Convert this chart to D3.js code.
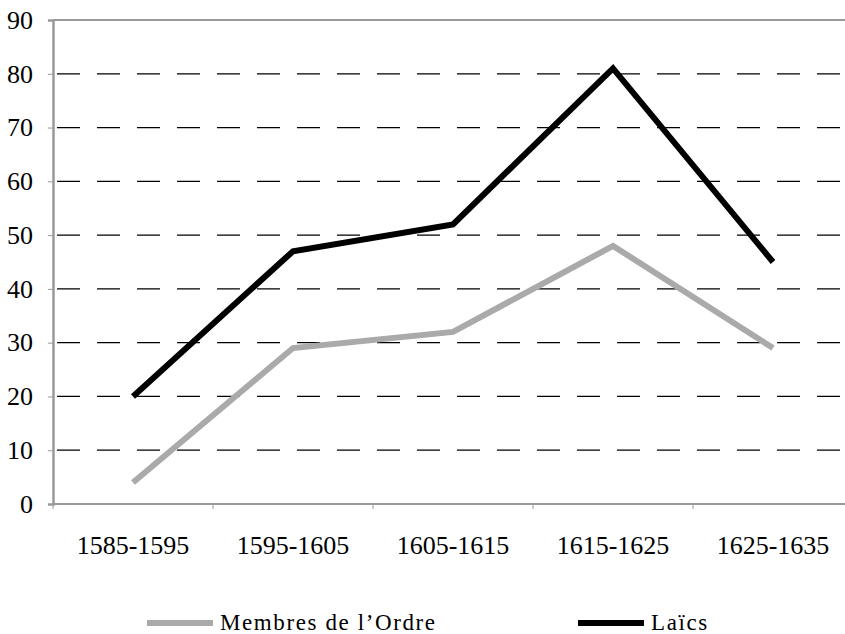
<!DOCTYPE html>
<html>
<head>
<meta charset="utf-8">
<script src="https://cdn.jsdelivr.net/npm/d3@7"></script>
<style>
  body { margin: 0; background: #fff; overflow: hidden; }
  svg { display: block; }
</style>
</head>
<body>
<div id="chart"></div>
<script>
// periods on the x axis
var periods = ["1585-1595", "1595-1605", "1605-1615", "1615-1625", "1625-1635"];
var membres = [4, 29, 32, 48, 29];   // Membres de l'Ordre
var laics = [20, 47, 52, 81, 45];    // Laïcs
var yTicks = [0, 10, 20, 30, 40, 50, 60, 70, 80, 90];

let width = 845, height = 634;
let svg = d3.select('#chart').append('svg')
    .attr('width', width)
    .attr('height', height);

let plotLeft = 53, plotRight = 853, plotTop = 20, plotBottom = 504;

let x = d3.scaleBand().domain(periods).range([plotLeft, plotRight]);
let y = d3.scaleLinear().domain([0, 90]).range([plotBottom, plotTop]);

// dashed gridlines
svg.append('g').selectAll('line')
    .data(yTicks.filter(d => d > 0 && d < 90))
    .enter().append('line')
    .attr('x1', plotLeft).attr('x2', plotRight)
    .attr('y1', d => y(d)).attr('y2', d => y(d))
    .attr('stroke', '#000')
    .attr('stroke-width', 1.3)
    .attr('stroke-dasharray', '23,17')
    .attr('stroke-dashoffset', -4);

// frame top line
svg.append('line')
    .attr('x1', plotLeft).attr('x2', plotRight)
    .attr('y1', plotTop).attr('y2', plotTop)
    .attr('stroke', '#999').attr('stroke-width', 2);

// y axis
let yAxis = svg.append('g')
    .attr('transform', `translate(${plotLeft},0)`)
    .call(d3.axisLeft(y).tickValues(yTicks).tickSize(5).tickPadding(15));
yAxis.select('.domain').attr('stroke', '#999').attr('stroke-width', 2.5);
yAxis.selectAll('.tick line').attr('stroke', '#999');
yAxis.selectAll('text')
    .attr('font-family', '"Liberation Serif", serif')
    .attr('font-size', 26)
    .attr('fill', '#000');

// x axis
let xTickPos = periods.map(p => x(p)).concat([plotRight]);
let xAxis = svg.append('g')
    .attr('transform', `translate(0,${plotBottom})`);
xAxis.append('line')
    .attr('x1', plotLeft).attr('x2', plotRight)
    .attr('stroke', '#999').attr('stroke-width', 2);
xAxis.selectAll('.tk').data(xTickPos).enter().append('line')
    .attr('x1', d => d).attr('x2', d => d)
    .attr('y1', 0).attr('y2', 5)
    .attr('stroke', '#999');
xAxis.selectAll('text').data(periods).enter().append('text')
    .attr('x', d => x(d) + x.bandwidth() / 2)
    .attr('y', 50)
    .attr('text-anchor', 'middle')
    .attr('font-family', '"Liberation Serif", serif')
    .attr('font-size', 26)
    .text(d => d);

// lines
let line = d3.line()
    .x((d, i) => x(periods[i]) + x.bandwidth() / 2)
    .y(d => y(d));

svg.append('path')
    .datum(membres)
    .attr('fill', 'none')
    .attr('stroke', '#aaaaaa')
    .attr('stroke-width', 6)
    .attr('d', line);

svg.append('path')
    .datum(laics)
    .attr('fill', 'none')
    .attr('stroke', '#000')
    .attr('stroke-width', 6)
    .attr('d', line);

// legend
let legend = [
    {name: "Membres de l\u2019Ordre", color: '#aaaaaa', x: 147},
    {name: "La\u00efcs", color: '#000', x: 578}
];
let lg = svg.append('g').selectAll('g').data(legend).enter().append('g')
    .attr('transform', d => `translate(${d.x},623)`);
lg.append('line')
    .attr('x1', 0).attr('x2', 66)
    .attr('stroke', d => d.color)
    .attr('stroke-width', 6);
lg.append('text')
    .attr('x', 73)
    .attr('y', 7)
    .attr('font-family', '"Liberation Serif", serif')
    .attr('font-size', 23)
    .attr('letter-spacing', 1.6)
    .text(d => d.name);
</script>
</body>
</html>
